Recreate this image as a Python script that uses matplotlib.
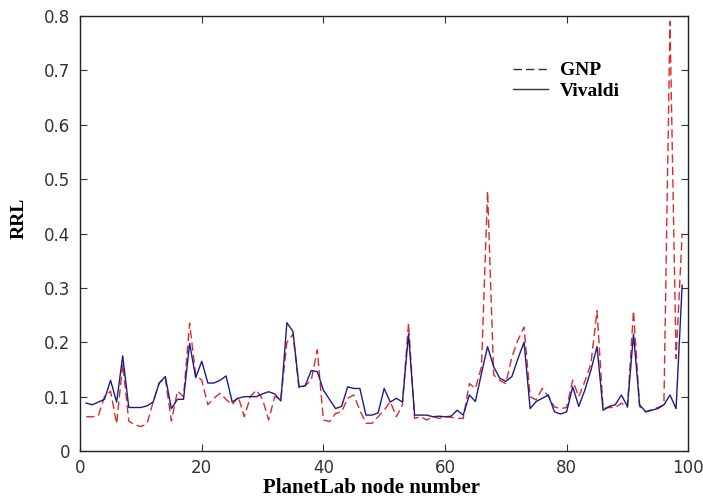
import matplotlib.pyplot as plt
from matplotlib.lines import Line2D

# node numbers and RRL values
nodes = list(range(1, 100))

gnp = [0.063, 0.063, 0.065, 0.100, 0.110, 0.050, 0.160, 0.055, 0.048, 0.045,
       0.050, 0.090, 0.125, 0.135, 0.055, 0.110, 0.100, 0.235, 0.140, 0.130,
       0.085, 0.097, 0.106, 0.095, 0.085, 0.100, 0.063, 0.100, 0.112, 0.095,
       0.057, 0.100, 0.095, 0.200, 0.215, 0.115, 0.120, 0.130, 0.186, 0.057,
       0.054, 0.069, 0.072, 0.097, 0.103, 0.075, 0.051, 0.051, 0.063, 0.075,
       0.091, 0.063, 0.085, 0.235, 0.060, 0.063, 0.057, 0.063, 0.060, 0.063,
       0.062, 0.060, 0.060, 0.124, 0.115, 0.155, 0.478, 0.140, 0.130, 0.124,
       0.173, 0.204, 0.228, 0.100, 0.094, 0.115, 0.100, 0.081, 0.078, 0.080,
       0.130, 0.100, 0.128, 0.161, 0.258, 0.078, 0.080, 0.080, 0.088, 0.080,
       0.258, 0.082, 0.072, 0.076, 0.080, 0.085, 0.790, 0.170, 0.400]

vivaldi = [0.088, 0.085, 0.090, 0.095, 0.130, 0.090, 0.175, 0.080, 0.080, 0.080,
           0.083, 0.090, 0.125, 0.137, 0.078, 0.095, 0.095, 0.198, 0.135, 0.165,
           0.125, 0.125, 0.130, 0.138, 0.090, 0.097, 0.100, 0.100, 0.100, 0.105,
           0.109, 0.105, 0.092, 0.236, 0.220, 0.118, 0.120, 0.148, 0.146, 0.112,
           0.095, 0.078, 0.082, 0.118, 0.115, 0.115, 0.066, 0.066, 0.070, 0.115,
           0.090, 0.097, 0.090, 0.215, 0.066, 0.066, 0.066, 0.063, 0.064, 0.063,
           0.064, 0.075, 0.066, 0.103, 0.091, 0.143, 0.192, 0.155, 0.134, 0.128,
           0.137, 0.170, 0.200, 0.078, 0.091, 0.097, 0.103, 0.072, 0.068, 0.072,
           0.118, 0.082, 0.112, 0.149, 0.192, 0.075, 0.082, 0.085, 0.103, 0.082,
           0.215, 0.085, 0.072, 0.075, 0.078, 0.085, 0.103, 0.078, 0.305]

xticks = [0, 20, 40, 60, 80, 100]
yticks = [0, 0.1, 0.2, 0.3, 0.4, 0.5, 0.6, 0.7, 0.8]
ytick_labels = ['0', '0.1', '0.2', '0.3', '0.4', '0.5', '0.6', '0.7', '0.8']

fig = plt.figure(figsize=(7.03, 4.97), dpi=100)
ax = fig.add_axes([0.114, 0.0926, 0.865, 0.875])

ax.plot(nodes, gnp, color='#d92b2b', linestyle=(0, (6, 3)), linewidth=1.0)
ax.plot(nodes, vivaldi, color='#1c1c86', linestyle='-', linewidth=1.0)

ax.set_xlim(0, 100)
ax.set_ylim(0, 0.8)
ax.set_xticks(xticks)
ax.set_yticks(yticks)
ax.set_yticklabels(ytick_labels)
ax.tick_params(direction='in', top=True, right=True, length=5, width=0.8,
               labelsize=12, colors='#333333')
ax.tick_params(axis='x', pad=6)
ax.tick_params(axis='y', pad=7)
for s in ax.spines.values():
    s.set_linewidth(1.0)
    s.set_color('#222222')

ax.set_xlabel('PlanetLab node number', family='Liberation Serif',
              fontweight='bold', fontsize=15)
ax.xaxis.set_label_coords(0.479, -0.062)
ax.set_ylabel('RRL', family='Liberation Serif', fontweight='bold', fontsize=14)
ax.yaxis.set_label_coords(-0.087, 0.535)

# legend with dark handles like the original
handles = [Line2D([], [], color='#333333', linestyle=(0, (6, 3)), linewidth=1.0),
           Line2D([], [], color='#333333', linestyle='-', linewidth=1.0)]
ax.legend(handles, ['GNP', 'Vivaldi'], loc='upper left',
          bbox_to_anchor=(0.712, 0.895), frameon=False, handlelength=1.8,
          handletextpad=0.6, labelspacing=0.15, borderpad=0, borderaxespad=0,
          prop={'family': 'Liberation Serif', 'weight': 'bold', 'size': 14})

plt.savefig('out.png', dpi=100)
